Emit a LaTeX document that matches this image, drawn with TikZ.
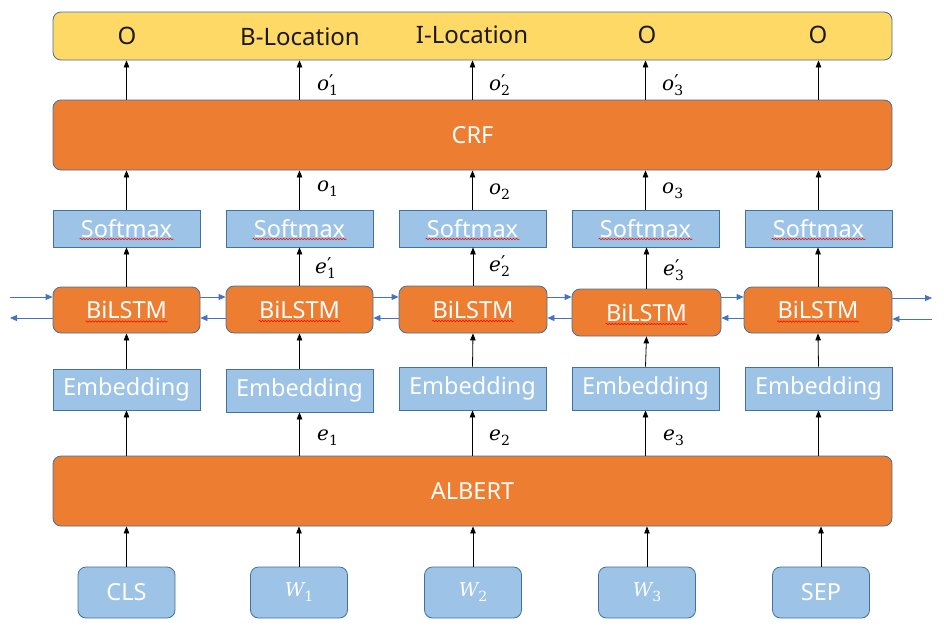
\documentclass[tikz,border=0pt]{standalone}
\usepackage{fontspec}
\setmainfont{Noto Sans}
\newfontfamily\mathlike{DejaVu Serif}
\usetikzlibrary{arrows.meta,decorations.pathmorphing,calc}
\definecolor{orng}{HTML}{ED7D31}
\definecolor{lblue}{HTML}{9DC3E6}
\definecolor{bordr}{HTML}{41719C}
\definecolor{ylw}{HTML}{FFD966}
\definecolor{arblue}{HTML}{4472C4}
\definecolor{txtdark}{HTML}{1A1A1A}
\newcommand{\mysym}[3]{{\mathlike\itshape #1}\rlap{\fontsize{19}{19}\mathlike\selectfont\raisebox{2pt}{#3}}{\fontsize{14}{14}\mathlike\selectfont\raisebox{-0.35em}{#2}}}
\tikzset{
  box/.style={draw=bordr, line width=0.8pt, inner sep=0pt, font=\fontsize{23.5}{27}\selectfont, text=white},
  orangebox/.style={box, fill=orng, rounded corners=8pt},
  bluebox/.style={box, fill=lblue},
  bluerbox/.style={bluebox, rounded corners=8pt},
  yelbox/.style={box, fill=ylw, rounded corners=8pt},
  toplab/.style={font=\fontsize{24}{27}\selectfont, text=txtdark, inner sep=0pt},
  up/.style={-{Triangle[length=7pt,width=5.5pt]}, line width=0.8pt, black},
  side/.style={-{Triangle[length=7pt,width=6pt]}, arblue, line width=0.8pt},
  lab/.style={anchor=west, inner sep=0pt, font=\fontsize{20}{24}\selectfont},
  wavy/.style={red, decorate, decoration={snake, segment length=3pt, amplitude=0.7pt}, line width=0.5pt}
}
\begin{document}
\begin{tikzpicture}[x=1pt,y=-1pt]
\useasboundingbox (0,0) rectangle (944,627);
% big boxes
\node[yelbox, minimum width=839pt, minimum height=48pt] (out) at (472.5,36) {};
\node[orangebox, minimum width=839pt, minimum height=70pt] (crf) at (472.5,135) {CRF};
\node[orangebox, minimum width=839pt, minimum height=70pt] (albert) at (472.5,491) {ALBERT};
% output labels
\node[toplab] (t1) at (127,36) {O};
\node[toplab] (t2) at (300,37) {B-Location};
\node[toplab] (t3) at (472,35) {I-Location};
\node[toplab] (t4) at (647,35) {O};
\node[toplab] (t5) at (818,35) {O};
% softmax
\foreach \i/\x in {1/126.5,2/299.5,3/472.5,4/645.5,5/818.5}{
  \node[bluebox, minimum width=147pt, minimum height=37pt] (sm\i) at (\x,228.5) {Softmax};
}
% BiLSTM
\foreach \i/\x/\y/\w/\h in {1/126.5/310/147/46,2/299.5/309.5/147/47,3/473/309.5/148/47,4/646.5/312.5/149/47,5/818/310/148/46}{
  \node[orangebox, minimum width=\w pt, minimum height=\h pt] (bl\i) at (\x,\y) {BiLSTM};
}
% Embedding
\foreach \i/\y/\h in {1/389.5/41,2/390.5/43,3/388.5/43,4/388.5/43,5/388.5/43}{
  \pgfmathsetmacro{\xx}{126.5+173*(\i-1)}
  \node[bluebox, minimum width=147pt, minimum height=\h pt] (emb\i) at (\xx,\y) {Embedding};
}
% inputs
\node[bluerbox, minimum width=97pt, minimum height=51pt] (in1) at (126.5,592.5) {CLS};
\node[bluerbox, minimum width=97pt, minimum height=51pt, font=\fontsize{19}{23}\selectfont] (in2) at (299,592.5) {\mysym{W}{1}{}};
\node[bluerbox, minimum width=97pt, minimum height=51pt, font=\fontsize{19}{23}\selectfont] (in3) at (473,592.5) {\mysym{W}{2}{}};
\node[bluerbox, minimum width=97pt, minimum height=51pt, font=\fontsize{19}{23}\selectfont] (in4) at (647,592.5) {\mysym{W}{3}{}};
\node[bluerbox, minimum width=97pt, minimum height=51pt] (in5) at (821,592.5) {SEP};
% wavy underlines
\foreach \i in {1,...,5}{
  \draw[wavy] ($(sm\i.center)+(-47,10.5)$) -- ($(sm\i.center)+(47,10.5)$);
  \draw[wavy] ($(bl\i.center)+(-41,11.5)$) -- ($(bl\i.center)+(41,11.5)$);
}
% vertical arrows
\foreach \i in {1,...,5}{
  \draw[up] (in\i.north) -- (albert.south -| in\i.north);
  \draw[up] (albert.north -| emb\i.south) -- (emb\i.south);
  \draw[up] (emb\i.north) -- (bl\i.south);
  \draw[up] (bl\i.north) -- (sm\i.south -| bl\i.north);
  \draw[up] (sm\i.north) -- (crf.south -| sm\i.north);
  \draw[up] (crf.north -| sm\i.north) -- (out.south -| sm\i.north);
}
% horizontal BiLSTM connectors
\coordinate (rowR) at (0,297);
\coordinate (rowL) at (0,318);
\foreach \i/\j in {1/2,2/3,3/4,4/5}{
  \draw[side] (bl\i.east |- rowR) -- (bl\j.west |- rowR);
  \draw[side] (bl\j.west |- rowL) -- (bl\i.east |- rowL);
}
\coordinate (lin) at (10,297);
\coordinate (lout) at (10,318);
\coordinate (rout) at (932,298);
\coordinate (rin) at (932,319);
\draw[side] (lin) -- (bl1.west |- lin);
\draw[side] (bl1.west |- lout) -- (lout);
\draw[side] (bl5.east |- rout) -- (rout);
\draw[side] (rin) -- (bl5.east |- rin);
% math-like labels
\node[lab] (lo1p) at (317,85) {\mysym{o}{1}{′}};
\node[lab] (lo2p) at (489,85) {\mysym{o}{2}{′}};
\node[lab] (lo3p) at (662,85) {\mysym{o}{3}{′}};
\node[lab] (lo1) at (317,189) {\mysym{o}{1}{}};
\node[lab] (lo2) at (489,192) {\mysym{o}{2}{}};
\node[lab] (lo3) at (662,191) {\mysym{o}{3}{}};
\node[lab] (le1p) at (315,268) {\mysym{e}{1}{′}};
\node[lab] (le2p) at (489,266) {\mysym{e}{2}{′}};
\node[lab] (le3p) at (663,270) {\mysym{e}{3}{′}};
\node[lab] (le1) at (317,438) {\mysym{e}{1}{}};
\node[lab] (le2) at (489,438) {\mysym{e}{2}{}};
\node[lab] (le3) at (663,438) {\mysym{e}{3}{}};
\end{tikzpicture}
\end{document}
